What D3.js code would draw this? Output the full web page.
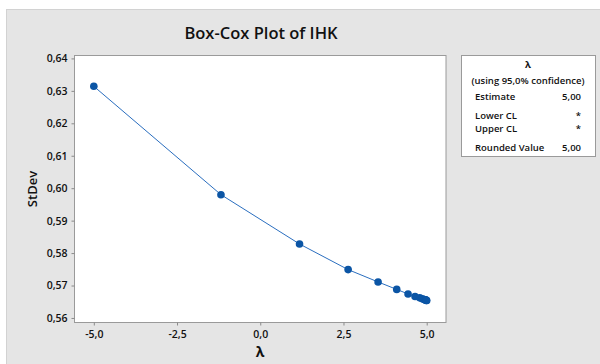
<!DOCTYPE html>
<meta charset="utf-8">
<style>
body { margin: 0; background: #fff; }
text { font-family: "Open Sans", "Noto Sans", sans-serif; fill: #111; }
</style>
<svg width="600" height="364"></svg>
<script src="https://d3js.org/d3.v7.min.js"></script>
<script>

// data
var lambdas = [-5, -1.18, 1.18, 2.64, 3.54, 4.10, 4.44, 4.65, 4.79, 4.87, 4.92, 4.95, 4.97, 4.98, 4.99, 5.00];
var stdevs  = [0.6314, 0.5980, 0.5828, 0.5749, 0.5711, 0.5688, 0.5674, 0.5666, 0.5662, 0.5659, 0.5657, 0.5656, 0.5655, 0.5655, 0.5654, 0.5654];
var xTicks = [-5, -2.5, 0, 2.5, 5];
var yTicks = [0.56, 0.57, 0.58, 0.59, 0.60, 0.61, 0.62, 0.63, 0.64];
var legendRows = [["Estimate", "5,00"], ["Lower CL", "*"], ["Upper CL", "*"], ["Rounded Value", "5,00"]];

var svg = d3.select("svg");

// background panel
svg.append("rect")
    .attr("x", 6.5).attr("y", 9.5)
    .attr("width", 600).attr("height", 360)
    .attr("fill", "#e5e5e5")
    .attr("stroke", "#d2d2d2");

var plot = {left: 74.5, top: 55.5, right: 446, bottom: 322.5};

var x = d3.scaleLinear().domain([-5.58, 5.58]).range([plot.left, plot.right]);
var y = d3.scaleLinear().domain([0.5586, 0.6409]).range([plot.bottom, plot.top]);

var comma = function(f) { return function(d) { return d3.format(f)(d).replace(".", ",").replace("−", "-"); }; };

svg.append("rect")
    .attr("x", plot.left).attr("y", plot.top)
    .attr("width", plot.right - plot.left).attr("height", plot.bottom - plot.top)
    .attr("fill", "#fff")
    .attr("stroke", "#9a9a9a");

// axes
var xAxis = svg.append("g")
    .attr("transform", "translate(0," + plot.bottom + ")")
    .call(d3.axisBottom(x).tickValues(xTicks).tickSize(3).tickSizeOuter(0).tickFormat(comma(".1f")));
var yAxis = svg.append("g")
    .attr("transform", "translate(" + plot.left + ",0)")
    .call(d3.axisLeft(y).tickValues(yTicks).tickSize(3).tickSizeOuter(0).tickFormat(comma(".2f")));

[xAxis, yAxis].forEach(function(a) {
  a.select(".domain").remove();
  a.selectAll(".tick line").attr("stroke", "#8a8a8a");
  a.selectAll(".tick text")
      .style("font-family", "'Open Sans', sans-serif")
      .style("font-size", "10.5px")
      .style("font-weight", "600")
      .attr("fill", "#222");
});
xAxis.selectAll(".tick text").attr("dy", "0.95em");
yAxis.selectAll(".tick text").attr("dx", "-1");

// line + points
var pts = lambdas.map(function(l, i) { return [l, stdevs[i]]; });

svg.append("path")
    .datum(pts)
    .attr("fill", "none")
    .attr("stroke", "#2a6ebf")
    .attr("stroke-width", 1)
    .attr("d", d3.line().x(function(d) { return x(d[0]); }).y(function(d) { return y(d[1]); }));

svg.selectAll(".pt")
    .data(pts)
  .enter().append("circle")
    .attr("class", "pt")
    .attr("cx", function(d) { return x(d[0]); })
    .attr("cy", function(d) { return y(d[1]); })
    .attr("r", 3.8)
    .attr("fill", "#0b55a5");

// titles
svg.append("text")
    .attr("x", 261).attr("y", 39)
    .attr("text-anchor", "middle")
    .style("font-size", "16.5px").style("font-weight", "600")
    .text("Box-Cox Plot of IHK");

svg.append("text")
    .attr("x", 260).attr("y", 357)
    .attr("text-anchor", "middle")
    .style("font-size", "14px").style("font-weight", "700")
    .text("λ");

svg.append("text")
    .attr("transform", "translate(37,189) rotate(-90)")
    .attr("text-anchor", "middle")
    .style("font-size", "13px").style("font-weight", "600")
    .text("StDev");

// legend box
var lg = svg.append("g");
lg.append("rect")
    .attr("x", 461.5).attr("y", 55.5)
    .attr("width", 134).attr("height", 101)
    .attr("fill", "#fff")
    .attr("stroke", "#9a9a9a");

lg.append("text")
    .attr("x", 528).attr("y", 68)
    .attr("text-anchor", "middle")
    .style("font-size", "9.5px").style("font-weight", "700")
    .text("λ");
lg.append("text")
    .attr("x", 528).attr("y", 84)
    .attr("text-anchor", "middle")
    .style("font-size", "9.5px").style("font-weight", "600")
    .text("(using 95,0% confidence)");

var rowY = [100, 119, 131.5, 151];
legendRows.forEach(function(r, i) {
  lg.append("text")
      .attr("x", 475).attr("y", rowY[i])
      .style("font-size", "9.5px").style("font-weight", "600")
      .text(r[0]);
  lg.append("text")
      .attr("x", 581).attr("y", rowY[i])
      .attr("text-anchor", "end")
      .style("font-size", "9.5px").style("font-weight", "600")
      .text(r[1]);
});

</script>
